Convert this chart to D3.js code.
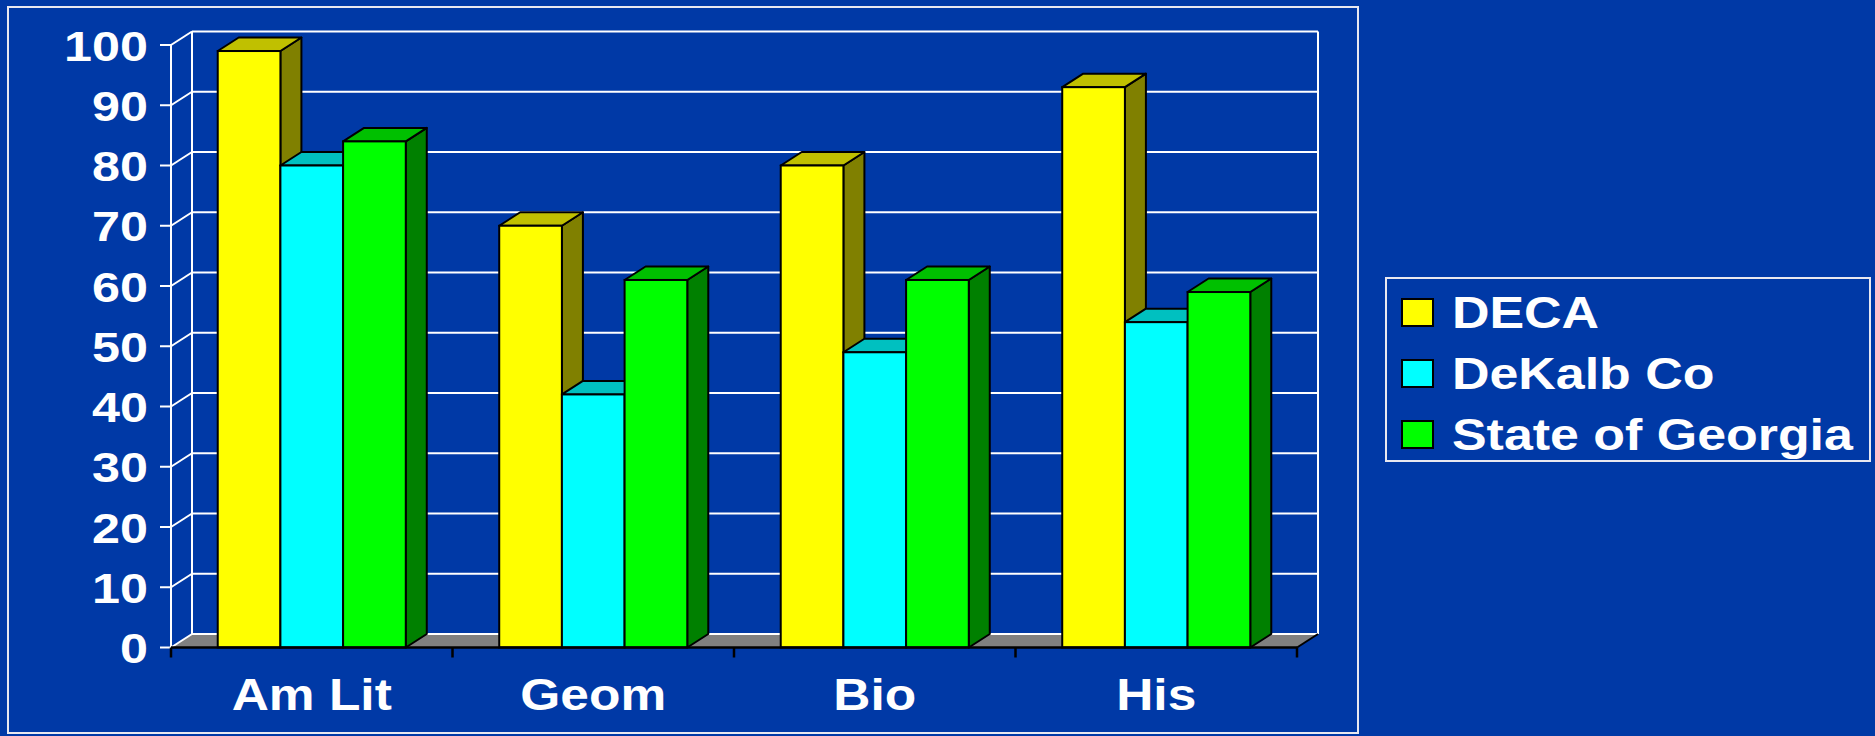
<!DOCTYPE html>
<html>
<head>
<meta charset="utf-8">
<script src="https://cdn.jsdelivr.net/npm/d3@7"></script>
<style>
  html, body { margin: 0; padding: 0; background: #0039A6; }
  svg { display: block; }
  text { font-family: "Liberation Sans", Arial, sans-serif; font-weight: bold; fill: #ffffff; }
</style>
</head>
<body>
<svg id="chart" width="1875" height="736"></svg>
<script>
const categories = ["Am Lit", "Geom", "Bio", "His"];
const seriesNames = ["DECA", "DeKalb Co", "State of Georgia"];
const decaValues = [99, 70, 80, 93];
const dekalbValues = [80, 42, 49, 54];
const georgiaValues = [84, 61, 61, 59];
const yTickValues = [0, 10, 20, 30, 40, 50, 60, 70, 80, 90, 100];

const frontColors = ["#FFFF00", "#00FFFF", "#00FF00"];
const topColors = ["#C0C000", "#00C0C0", "#00C000"];
const sideColors = ["#808000", "#008080", "#008000"];

const seriesValues = [decaValues, dekalbValues, georgiaValues];

const svg = d3.select("#chart");
const W = 1875, H = 736;
const SX = 1.17; // horizontal text stretch
const DX = 21, DY = -13.5;

svg.append("rect").attr("width", W).attr("height", H).attr("fill", "#0039A6");

// outer frame
svg.append("rect").attr("x", 8).attr("y", 7).attr("width", 1350).attr("height", 726)
  .attr("fill", "none").attr("stroke", "#E8E8F0").attr("stroke-width", 2);

const x0 = d3.scaleBand().domain(categories).range([171, 1297]).paddingInner(0).paddingOuter(0);
const bw = x0.bandwidth();
const x1 = d3.scaleBand().domain(seriesNames).range([bw * 0.166, bw * 0.834]).padding(0);
const y = d3.scaleLinear().domain([0, 100]).range([647.5, 45]);

const xL = 171, xR = 1297;
const g = svg.append("g");

// floor
g.append("path")
  .attr("d", `M${xL},${y(0)} L${xR},${y(0)} L${xR + DX},${y(0) + DY} L${xL + DX},${y(0) + DY} Z`)
  .attr("fill", "#808080");

// back wall gridlines
g.selectAll("line.grid").data(yTickValues).enter().append("line")
  .attr("x1", xL + DX).attr("x2", xR + DX)
  .attr("y1", d => y(d) + DY).attr("y2", d => y(d) + DY)
  .attr("stroke", "#ffffff").attr("stroke-width", 2);
// back wall verticals
g.append("line").attr("x1", xL + DX).attr("x2", xL + DX).attr("y1", y(0) + DY).attr("y2", y(100) + DY)
  .attr("stroke", "#ffffff").attr("stroke-width", 2);
g.append("line").attr("x1", xR + DX).attr("x2", xR + DX).attr("y1", y(0) + DY).attr("y2", y(100) + DY)
  .attr("stroke", "#ffffff").attr("stroke-width", 2);
// side wall diagonals
g.selectAll("line.diag").data(yTickValues).enter().append("line")
  .attr("x1", xL).attr("x2", xL + DX)
  .attr("y1", d => y(d)).attr("y2", d => y(d) + DY)
  .attr("stroke", "#ffffff").attr("stroke-width", 2);
// front vertical axis
g.append("line").attr("x1", xL).attr("x2", xL).attr("y1", y(0)).attr("y2", y(100))
  .attr("stroke", "#ffffff").attr("stroke-width", 2);
// y ticks
g.selectAll("line.ytick").data(yTickValues).enter().append("line")
  .attr("x1", xL - 11).attr("x2", xL)
  .attr("y1", d => y(d)).attr("y2", d => y(d))
  .attr("stroke", "#ffffff").attr("stroke-width", 2);
// y labels
g.selectAll("text.ylab").data(yTickValues).enter().append("text")
  .attr("text-anchor", "end")
  .attr("font-size", 43)
  .attr("transform", d => `translate(148,${y(d) + 15.5}) scale(${SX},1)`)
  .text(d => d);

// floor right edge
g.append("line").attr("x1", xR).attr("x2", xR + DX).attr("y1", y(0)).attr("y2", y(0) + DY)
  .attr("stroke", "#000000").attr("stroke-width", 2);

// bars
categories.forEach((cat, ci) => {
  seriesNames.forEach((s, si) => {
    const v = seriesValues[si][ci];
    const bx0 = x0(cat) + x1(s);
    const bx1 = bx0 + x1.bandwidth();
    const yt = y(v), yb = y(0);
    // side
    g.append("path")
      .attr("d", `M${bx1},${yt} L${bx1 + DX},${yt + DY} L${bx1 + DX},${yb + DY} L${bx1},${yb} Z`)
      .attr("fill", sideColors[si]).attr("stroke", "#000").attr("stroke-width", 2).attr("stroke-linejoin", "round");
    // top
    g.append("path")
      .attr("d", `M${bx0},${yt} L${bx0 + DX},${yt + DY} L${bx1 + DX},${yt + DY} L${bx1},${yt} Z`)
      .attr("fill", topColors[si]).attr("stroke", "#000").attr("stroke-width", 2).attr("stroke-linejoin", "round");
    // front
    g.append("rect")
      .attr("x", bx0).attr("y", yt).attr("width", bx1 - bx0).attr("height", yb - yt)
      .attr("fill", frontColors[si]).attr("stroke", "#000").attr("stroke-width", 2);
  });
});

// front x axis
g.append("line").attr("x1", xL).attr("x2", xR).attr("y1", y(0)).attr("y2", y(0))
  .attr("stroke", "#000").attr("stroke-width", 2.5);
const boundaries = categories.map(c => x0(c)).concat([xR]);
g.selectAll("line.xtick").data(boundaries).enter().append("line")
  .attr("x1", d => d).attr("x2", d => d).attr("y1", y(0)).attr("y2", y(0) + 10)
  .attr("stroke", "#000").attr("stroke-width", 2.5);
// category labels
g.selectAll("text.xlab").data(categories).enter().append("text")
  .attr("text-anchor", "middle")
  .attr("font-size", 44)
  .attr("transform", d => `translate(${x0(d) + bw / 2},710) scale(${SX},1)`)
  .text(d => d);

// legend
const lg = svg.append("g");
lg.append("rect").attr("x", 1386).attr("y", 278).attr("width", 484).attr("height", 183)
  .attr("fill", "none").attr("stroke", "#E8E8F0").attr("stroke-width", 2);
seriesNames.forEach((s, i) => {
  const yy = 299 + i * 61;
  lg.append("rect").attr("x", 1402).attr("y", yy).attr("width", 31).attr("height", 27)
    .attr("fill", frontColors[i]).attr("stroke", "#000").attr("stroke-width", 2);
  lg.append("text").attr("font-size", 44)
    .attr("transform", `translate(1452,${yy + 29}) scale(1.18,1)`)
    .text(s);
});
</script>
</body>
</html>
